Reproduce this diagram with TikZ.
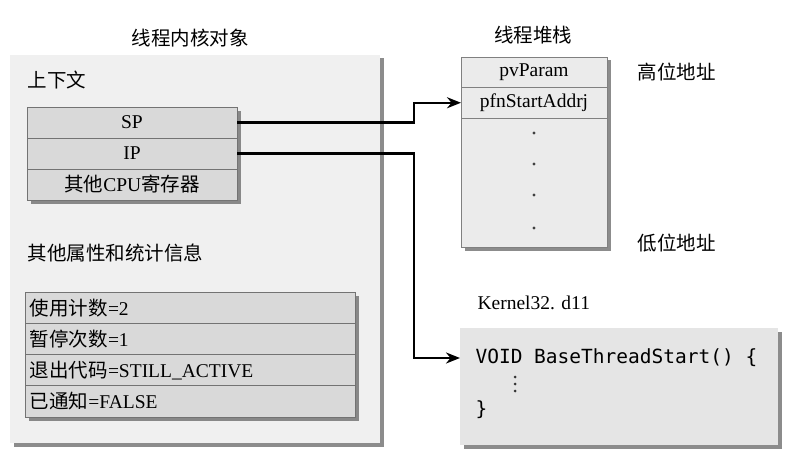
\documentclass[tikz,border=0pt]{standalone}
\usepackage{fontspec}
\setmainfont{Liberation Serif}
\newfontfamily\cjk{Noto Sans CJK SC}
\newfontfamily\codefont{DejaVu Sans Mono}
\usetikzlibrary{positioning,arrows.meta,shadows}
\newcommand\zh[1]{{\cjk #1}}

\tikzset{
  shade box/.style={outer sep=0pt, drop shadow={shadow xshift=3.5pt, shadow yshift=-3.5pt, fill=black!60, opacity=0.75}},
  panel/.style={shade box, fill=black!6},
  reg/.style={shade box, draw=black!55, line width=1pt, fill=black!15,
    minimum width=210pt, minimum height=31pt, inner sep=0pt},
  stat/.style={shade box, draw=black!55, line width=1pt, fill=black!15,
    minimum height=31.25pt, text width=320pt, inner xsep=5pt, inner ysep=0pt, align=left},
  slot/.style={shade box, draw=black!50, line width=0.8pt, fill=black!8,
    minimum width=146pt, minimum height=30.5pt, inner sep=0pt},
  codebox/.style={shade box, fill=black!10, minimum width=318pt, minimum height=117pt},
  codeline/.style={anchor=west, font=\codefont\fontsize{19.5}{22}\selectfont},
  link/.style={line width=2.4pt, -{Stealth[length=14pt,width=11pt]}}
}

\begin{document}
\begin{tikzpicture}[x=1pt, y=-1pt, font=\fontsize{19.5}{22}\selectfont]
  \fill[white] (0,0) rectangle (793,460);
  \useasboundingbox (0,0) rectangle (793,460);

  % Kernel object
  \node (kobjtitle) at (190,38) {\zh{线程内核对象}};
  \node[panel, anchor=north west, minimum width=370pt, minimum height=388pt] (kobj) at (10,55) {};
  \node[anchor=west] (ctx) at (24,80) {\zh{上下文}};
  \node[reg, anchor=north west] (sp) at (27,107) {SP};
  \node[reg, below=0pt of sp] (ip) {IP};
  \node[reg, below=0pt of ip] (cpu) {\zh{其他}CPU\zh{寄存器}};
  \node[anchor=west] (attr) at (24,253) {\zh{其他属性和统计信息}};
  \node[stat, anchor=north west] (usage) at (25,292) {\zh{使用计数}=2};
  \node[stat, below=0pt of usage] (suspend) {\zh{暂停次数}=1};
  \node[stat, below=0pt of suspend] (exitcode) {\zh{退出代码}=STILL\_ACTIVE};
  \node[stat, below=0pt of exitcode] (signaled) {\zh{已通知}=FALSE};

  % Thread stack
  \node (stktitle) at (533,35) {\zh{线程堆栈}};
  \node[slot, anchor=north west] (param) at (461,57) {pvParam};
  \node[slot, below=0pt of param] (addr) {pfnStartAddrj};
  \node[slot, below=0pt of addr, minimum height=129pt] (stkrest) {};
  \foreach \y in {133,164,195,228}
    \fill[black!75] (534,\y) circle (1.6pt);
  \node[anchor=west] (high) at (634,72) {\zh{高位地址}};
  \node[anchor=west] (low) at (634,243) {\zh{低位地址}};

  % Kernel32
  \node[anchor=west] (dll) at (474,303) {Kernel32. d11};
  \node[codebox, anchor=north west] (code) at (460,328) {};
  \node[codeline] (voidln) at (472,358) {VOID BaseThreadStart() \{};
  \foreach \y in {377,384,391}
    \fill[black!80] (515,\y) circle (1.5pt);
  \node[codeline] (closing) at (472,410) {\}};

  % Connectors
  \coordinate (bend) at (414,0);
  \draw[link] (sp.east) -- (sp.east -| bend) |- (addr.west);
  \draw[link] (ip.east) -- (ip.east -| bend) |- (code.west |- voidln);
\end{tikzpicture}
\end{document}
